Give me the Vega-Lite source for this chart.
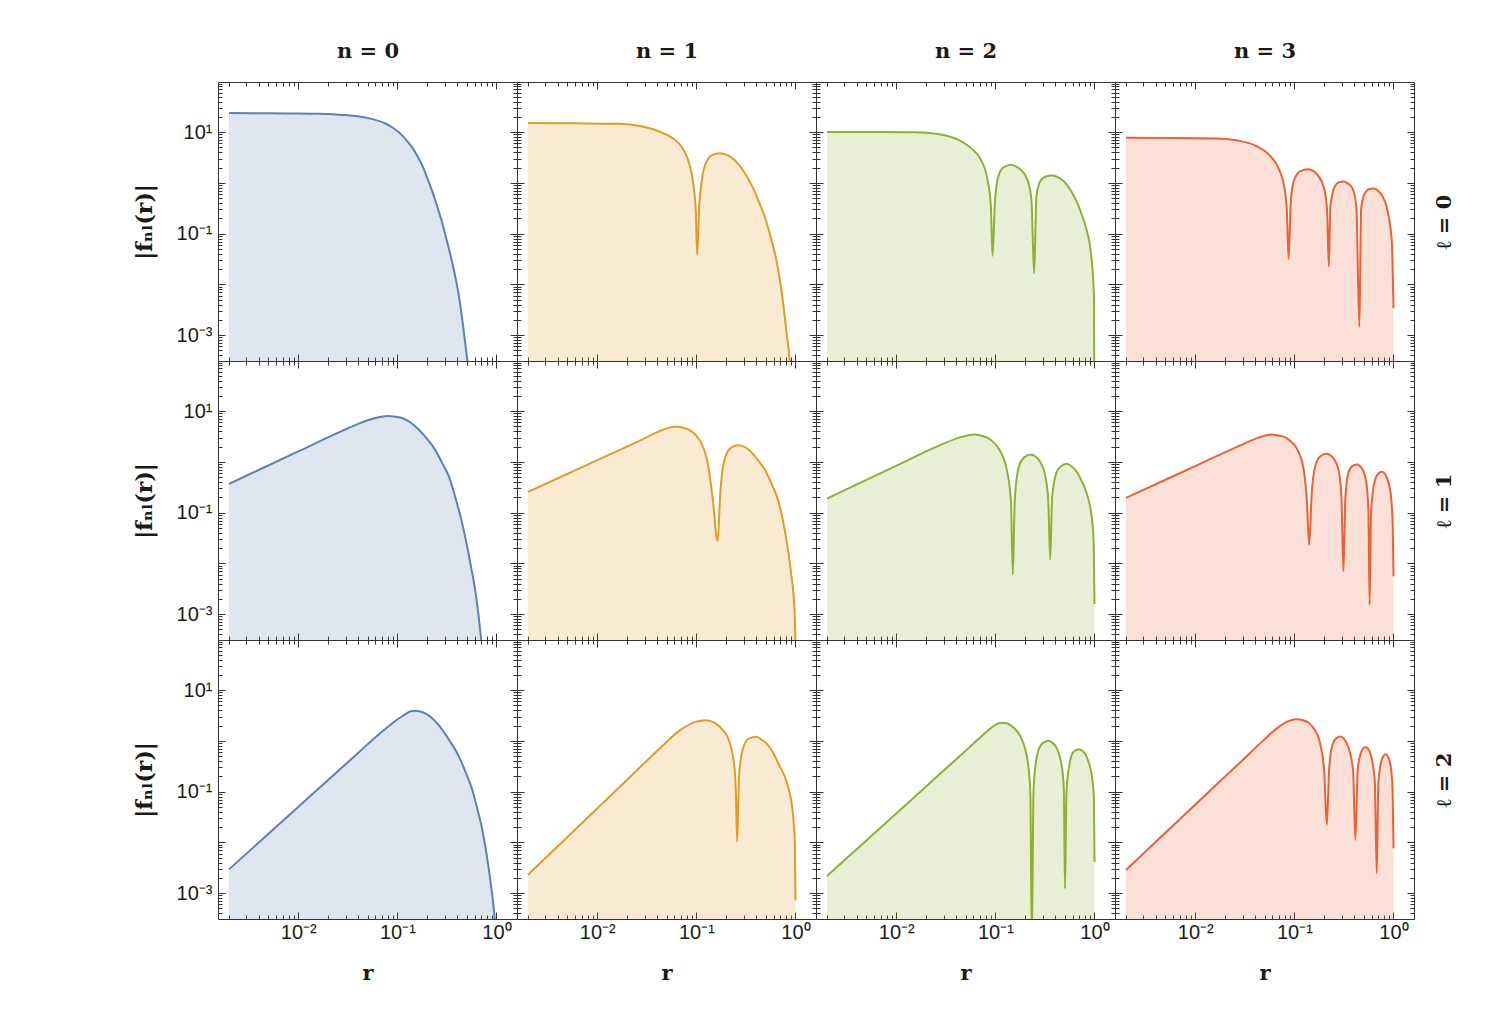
{
"$schema":"https://vega.github.io/schema/vega-lite/v6.json",
"padding":{"left":133,"top":40,"right":20,"bottom":10},
"background":"white",
"datasets":{"wf":[
{"n":0,"l":0,"r":0.002,"f":23.71},{"n":0,"l":0,"r":0.00753,"f":23.28},{"n":0,"l":0,"r":0.01585,"f":22.91},{"n":0,"l":0,"r":0.02404,"f":22.23},{"n":0,"l":0,"r":0.03162,"f":21.38},{"n":0,"l":0,"r":0.04121,"f":20.32},{"n":0,"l":0,"r":0.0561,"f":18.03},{"n":0,"l":0,"r":0.07656,"f":14.59},{"n":0,"l":0,"r":0.08913,"f":12.3},{"n":0,"l":0,"r":0.1042,"f":9.817},{"n":0,"l":0,"r":0.1216,"f":7.161},{"n":0,"l":0,"r":0.1419,"f":4.898},{"n":0,"l":0,"r":0.1585,"f":3.428},{"n":0,"l":0,"r":0.1791,"f":2.163},{"n":0,"l":0,"r":0.2,"f":1.259},{"n":0,"l":0,"r":0.2254,"f":0.673},{"n":0,"l":0,"r":0.2535,"f":0.331},{"n":0,"l":0,"r":0.2844,"f":0.1603},{"n":0,"l":0,"r":0.3194,"f":0.0661},{"n":0,"l":0,"r":0.3589,"f":0.02606},{"n":0,"l":0,"r":0.4188,"f":0.005715},{"n":0,"l":0,"r":0.5082,"f":0.0003236},{"n":0,"l":0,"r":0.5248,"f":0.0001995},
{"n":1,"l":0,"r":0.002,"f":15.03},{"n":1,"l":0,"r":0.00631,"f":14.86},{"n":1,"l":0,"r":0.01545,"f":14.59},{"n":1,"l":0,"r":0.02864,"f":12.88},{"n":1,"l":0,"r":0.04217,"f":10.28},{"n":1,"l":0,"r":0.05741,"f":7.621},{"n":1,"l":0,"r":0.07244,"f":4.831},{"n":1,"l":0,"r":0.08453,"f":2.443},{"n":1,"l":0,"r":0.0929,"f":0.9863},{"n":1,"l":0,"r":0.09886,"f":0.2523},{"n":1,"l":0,"r":0.1019,"f":0.03802},{"n":1,"l":0,"r":0.1067,"f":0.3404},{"n":1,"l":0,"r":0.1135,"f":1.146},{"n":1,"l":0,"r":0.1247,"f":2.443},{"n":1,"l":0,"r":0.1452,"f":3.565},{"n":1,"l":0,"r":0.1726,"f":3.846},{"n":1,"l":0,"r":0.2138,"f":3.412},{"n":1,"l":0,"r":0.2698,"f":2.265},{"n":1,"l":0,"r":0.315,"f":1.445},{"n":1,"l":0,"r":0.3673,"f":0.8453},{"n":1,"l":0,"r":0.429,"f":0.417},{"n":1,"l":0,"r":0.5012,"f":0.1862},{"n":1,"l":0,"r":0.5623,"f":0.0851},{"n":1,"l":0,"r":0.631,"f":0.03516},{"n":1,"l":0,"r":0.7362,"f":0.005715},{"n":1,"l":0,"r":0.8072,"f":0.001259},{"n":1,"l":0,"r":0.875,"f":0.0003236},{"n":1,"l":0,"r":0.9016,"f":0.0001585},
{"n":2,"l":0,"r":0.002,"f":10.0},{"n":2,"l":0,"r":0.00631,"f":10.0},{"n":2,"l":0,"r":0.01521,"f":9.954},{"n":2,"l":0,"r":0.02825,"f":8.974},{"n":2,"l":0,"r":0.0415,"f":7.161},{"n":2,"l":0,"r":0.05662,"f":4.831},{"n":2,"l":0,"r":0.07145,"f":2.844},{"n":2,"l":0,"r":0.08337,"f":1.146},{"n":2,"l":0,"r":0.09016,"f":0.3412},{"n":2,"l":0,"r":0.09354,"f":0.03631},{"n":2,"l":0,"r":0.09886,"f":0.3981},{"n":2,"l":0,"r":0.105,"f":1.146},{"n":2,"l":0,"r":0.118,"f":1.945},{"n":2,"l":0,"r":0.1303,"f":2.163},{"n":2,"l":0,"r":0.1455,"f":2.265},{"n":2,"l":0,"r":0.1622,"f":2.089},{"n":2,"l":0,"r":0.1807,"f":1.803},{"n":2,"l":0,"r":0.2109,"f":1.146},{"n":2,"l":0,"r":0.2312,"f":0.4624},{"n":2,"l":0,"r":0.246,"f":0.01652},{"n":2,"l":0,"r":0.2594,"f":0.537},{"n":2,"l":0,"r":0.2825,"f":1.062},{"n":2,"l":0,"r":0.3228,"f":1.334},{"n":2,"l":0,"r":0.3758,"f":1.393},{"n":2,"l":0,"r":0.4315,"f":1.288},{"n":2,"l":0,"r":0.4932,"f":1.062},{"n":2,"l":0,"r":0.58,"f":0.6918},{"n":2,"l":0,"r":0.6714,"f":0.3981},{"n":2,"l":0,"r":0.7396,"f":0.2455},{"n":2,"l":0,"r":0.8147,"f":0.1374},{"n":2,"l":0,"r":0.929,"f":0.03516},{"n":2,"l":0,"r":0.9886,"f":0.005715},{"n":2,"l":0,"r":1.0,"f":0.00001},
{"n":3,"l":0,"r":0.002,"f":7.727},{"n":3,"l":0,"r":0.00631,"f":7.691},{"n":3,"l":0,"r":0.01622,"f":7.499},{"n":3,"l":0,"r":0.0278,"f":6.745},{"n":3,"l":0,"r":0.04093,"f":5.37},{"n":3,"l":0,"r":0.05572,"f":3.565},{"n":3,"l":0,"r":0.07031,"f":1.803},{"n":3,"l":0,"r":0.07889,"f":0.8453},{"n":3,"l":0,"r":0.08395,"f":0.2931},{"n":3,"l":0,"r":0.0873,"f":0.0317},{"n":3,"l":0,"r":0.09226,"f":0.4624},{"n":3,"l":0,"r":0.09954,"f":1.146},{"n":3,"l":0,"r":0.1161,"f":1.726},{"n":3,"l":0,"r":0.1387,"f":1.862},{"n":3,"l":0,"r":0.1549,"f":1.718},{"n":3,"l":0,"r":0.171,"f":1.439},{"n":3,"l":0,"r":0.1995,"f":0.7852},{"n":3,"l":0,"r":0.2138,"f":0.2931},{"n":3,"l":0,"r":0.2223,"f":0.02234},{"n":3,"l":0,"r":0.2307,"f":0.3412},{"n":3,"l":0,"r":0.2518,"f":0.7852},{"n":3,"l":0,"r":0.2825,"f":1.033},{"n":3,"l":0,"r":0.317,"f":1.062},{"n":3,"l":0,"r":0.3508,"f":0.955},{"n":3,"l":0,"r":0.3846,"f":0.7852},{"n":3,"l":0,"r":0.4217,"f":0.3412},{"n":3,"l":0,"r":0.4529,"f":0.001466},{"n":3,"l":0,"r":0.471,"f":0.2931},{"n":3,"l":0,"r":0.5047,"f":0.5794},{"n":3,"l":0,"r":0.5662,"f":0.7516},{"n":3,"l":0,"r":0.6368,"f":0.7727},{"n":3,"l":0,"r":0.6918,"f":0.7079},{"n":3,"l":0,"r":0.7603,"f":0.5794},{"n":3,"l":0,"r":0.867,"f":0.2931},{"n":3,"l":0,"r":0.9594,"f":0.07516},{"n":3,"l":0,"r":1.0,"f":0.003388},
{"n":0,"l":1,"r":0.002,"f":0.3681},{"n":0,"l":1,"r":0.004178,"f":0.7228},{"n":0,"l":1,"r":0.01023,"f":1.641},{"n":0,"l":1,"r":0.02735,"f":4.036},{"n":0,"l":1,"r":0.04276,"f":5.875},{"n":0,"l":1,"r":0.06124,"f":7.379},{"n":0,"l":1,"r":0.07998,"f":7.962},{"n":0,"l":1,"r":0.0955,"f":7.762},{"n":0,"l":1,"r":0.1146,"f":7.161},{"n":0,"l":1,"r":0.138,"f":5.821},{"n":0,"l":1,"r":0.1637,"f":4.335},{"n":0,"l":1,"r":0.1959,"f":2.951},{"n":0,"l":1,"r":0.2339,"f":1.888},{"n":0,"l":1,"r":0.28,"f":0.989},{"n":0,"l":1,"r":0.335,"f":0.4831},{"n":0,"l":1,"r":0.383,"f":0.2042},{"n":0,"l":1,"r":0.4375,"f":0.07852},{"n":0,"l":1,"r":0.5483,"f":0.009419},{"n":0,"l":1,"r":0.6266,"f":0.002075},{"n":0,"l":1,"r":0.6982,"f":0.0003388},{"n":0,"l":1,"r":0.7244,"f":0.0001585},
{"n":1,"l":1,"r":0.002,"f":0.2559},{"n":1,"l":1,"r":0.004375,"f":0.5152},{"n":1,"l":1,"r":0.01069,"f":1.148},{"n":1,"l":1,"r":0.02618,"f":2.559},{"n":1,"l":1,"r":0.04093,"f":3.908},{"n":1,"l":1,"r":0.05012,"f":4.571},{"n":1,"l":1,"r":0.06124,"f":4.898},{"n":1,"l":1,"r":0.07244,"f":4.732},{"n":1,"l":1,"r":0.08375,"f":4.335},{"n":1,"l":1,"r":0.09705,"f":3.467},{"n":1,"l":1,"r":0.1094,"f":2.559},{"n":1,"l":1,"r":0.1309,"f":0.8851},{"n":1,"l":1,"r":0.1459,"f":0.195},{"n":1,"l":1,"r":0.1637,"f":0.02805},{"n":1,"l":1,"r":0.1746,"f":0.2642},{"n":1,"l":1,"r":0.1875,"f":0.8851},{"n":1,"l":1,"r":0.2138,"f":1.75},{"n":1,"l":1,"r":0.2399,"f":2.042},{"n":1,"l":1,"r":0.263,"f":2.133},{"n":1,"l":1,"r":0.302,"f":1.995},{"n":1,"l":1,"r":0.3508,"f":1.626},{"n":1,"l":1,"r":0.42,"f":1.072},{"n":1,"l":1,"r":0.5012,"f":0.6561},{"n":1,"l":1,"r":0.5734,"f":0.3715},{"n":1,"l":1,"r":0.6561,"f":0.195},{"n":1,"l":1,"r":0.7834,"f":0.04295},{"n":1,"l":1,"r":0.8974,"f":0.006982},{"n":1,"l":1,"r":0.9795,"f":0.001135},{"n":1,"l":1,"r":1.0,"f":0.0002512},
{"n":2,"l":1,"r":0.002,"f":0.1888},{"n":2,"l":1,"r":0.004375,"f":0.39},{"n":2,"l":1,"r":0.01072,"f":0.8933},{"n":2,"l":1,"r":0.02624,"f":2.042},{"n":2,"l":1,"r":0.04487,"f":3.069},{"n":2,"l":1,"r":0.05248,"f":3.311},{"n":2,"l":1,"r":0.06138,"f":3.459},{"n":2,"l":1,"r":0.07244,"f":3.273},{"n":2,"l":1,"r":0.08375,"f":2.972},{"n":2,"l":1,"r":0.097,"f":2.371},{"n":2,"l":1,"r":0.1096,"f":1.75},{"n":2,"l":1,"r":0.1312,"f":0.6561},{"n":2,"l":1,"r":0.1436,"f":0.1679},{"n":2,"l":1,"r":0.15,"f":0.005984},{"n":2,"l":1,"r":0.1567,"f":0.1679},{"n":2,"l":1,"r":0.1714,"f":0.7621},{"n":2,"l":1,"r":0.1963,"f":1.239},{"n":2,"l":1,"r":0.2286,"f":1.393},{"n":2,"l":1,"r":0.255,"f":1.259},{"n":2,"l":1,"r":0.2805,"f":1.033},{"n":2,"l":1,"r":0.3214,"f":0.4831},{"n":2,"l":1,"r":0.342,"f":0.1679},{"n":2,"l":1,"r":0.3573,"f":0.01183},{"n":2,"l":1,"r":0.3733,"f":0.195},{"n":2,"l":1,"r":0.4121,"f":0.6067},{"n":2,"l":1,"r":0.4592,"f":0.8222},{"n":2,"l":1,"r":0.5248,"f":0.9141},{"n":2,"l":1,"r":0.59,"f":0.8128},{"n":2,"l":1,"r":0.6561,"f":0.6561},{"n":2,"l":1,"r":0.735,"f":0.4365},{"n":2,"l":1,"r":0.8204,"f":0.2642},{"n":2,"l":1,"r":0.9397,"f":0.07852},{"n":2,"l":1,"r":0.9817,"f":0.02512},{"n":2,"l":1,"r":1.0,"f":0.001585},
{"n":3,"l":1,"r":0.002,"f":0.195},{"n":3,"l":1,"r":0.004581,"f":0.41},{"n":3,"l":1,"r":0.01119,"f":0.9141},{"n":3,"l":1,"r":0.02742,"f":2.042},{"n":3,"l":1,"r":0.04285,"f":2.972},{"n":3,"l":1,"r":0.05012,"f":3.273},{"n":3,"l":1,"r":0.05861,"f":3.459},{"n":3,"l":1,"r":0.06839,"f":3.311},{"n":3,"l":1,"r":0.08017,"f":3.069},{"n":3,"l":1,"r":0.092,"f":2.512},{"n":3,"l":1,"r":0.105,"f":1.888},{"n":3,"l":1,"r":0.1233,"f":0.7621},{"n":3,"l":1,"r":0.1337,"f":0.1679},{"n":3,"l":1,"r":0.1409,"f":0.02339},{"n":3,"l":1,"r":0.15,"f":0.2642},{"n":3,"l":1,"r":0.1641,"f":0.8851},{"n":3,"l":1,"r":0.1828,"f":1.294},{"n":3,"l":1,"r":0.2089,"f":1.439},{"n":3,"l":1,"r":0.2455,"f":1.199},{"n":3,"l":1,"r":0.2805,"f":0.6561},{"n":3,"l":1,"r":0.2985,"f":0.195},{"n":3,"l":1,"r":0.3126,"f":0.006982},{"n":3,"l":1,"r":0.3266,"f":0.195},{"n":3,"l":1,"r":0.3508,"f":0.6067},{"n":3,"l":1,"r":0.3837,"f":0.8222},{"n":3,"l":1,"r":0.4266,"f":0.8851},{"n":3,"l":1,"r":0.4887,"f":0.7047},{"n":3,"l":1,"r":0.5346,"f":0.3565},{"n":3,"l":1,"r":0.5585,"f":0.1067},{"n":3,"l":1,"r":0.5741,"f":0.001531},{"n":3,"l":1,"r":0.5943,"f":0.1067},{"n":3,"l":1,"r":0.6397,"f":0.3855},{"n":3,"l":1,"r":0.6982,"f":0.5794},{"n":3,"l":1,"r":0.7638,"f":0.6353},{"n":3,"l":1,"r":0.859,"f":0.4831},{"n":3,"l":1,"r":0.9397,"f":0.2265},{"n":3,"l":1,"r":0.9817,"f":0.05794},{"n":3,"l":1,"r":1.0,"f":0.005559},
{"n":0,"l":2,"r":0.002,"f":0.002944},{"n":0,"l":2,"r":0.004055,"f":0.01023},{"n":0,"l":2,"r":0.00879,"f":0.03981},{"n":0,"l":2,"r":0.01905,"f":0.1556},{"n":0,"l":2,"r":0.04121,"f":0.6053},{"n":0,"l":2,"r":0.06561,"f":1.371},{"n":0,"l":2,"r":0.07943,"f":1.849},{"n":0,"l":2,"r":0.09661,"f":2.512},{"n":0,"l":2,"r":0.1148,"f":3.162},{"n":0,"l":2,"r":0.1368,"f":3.828},{"n":0,"l":2,"r":0.1514,"f":3.936},{"n":0,"l":2,"r":0.1698,"f":3.802},{"n":0,"l":2,"r":0.1936,"f":3.428},{"n":0,"l":2,"r":0.2344,"f":2.57},{"n":0,"l":2,"r":0.2844,"f":1.648},{"n":0,"l":2,"r":0.3451,"f":0.933},{"n":0,"l":2,"r":0.4188,"f":0.4898},{"n":0,"l":2,"r":0.489,"f":0.2399},{"n":0,"l":2,"r":0.5702,"f":0.1081},{"n":0,"l":2,"r":0.6405,"f":0.0457},{"n":0,"l":2,"r":0.7194,"f":0.01758},{"n":0,"l":2,"r":0.8395,"f":0.002858},{"n":0,"l":2,"r":0.9594,"f":0.0003184},{"n":0,"l":2,"r":0.9886,"f":0.0001585},
{"n":1,"l":2,"r":0.002,"f":0.002307},{"n":1,"l":2,"r":0.004276,"f":0.00955},{"n":1,"l":2,"r":0.009572,"f":0.04315},{"n":1,"l":2,"r":0.02138,"f":0.1941},{"n":1,"l":2,"r":0.04375,"f":0.7413},{"n":1,"l":2,"r":0.06855,"f":1.626},{"n":1,"l":2,"r":0.09795,"f":2.371},{"n":1,"l":2,"r":0.1227,"f":2.559},{"n":1,"l":2,"r":0.1413,"f":2.427},{"n":1,"l":2,"r":0.1603,"f":2.133},{"n":1,"l":2,"r":0.185,"f":1.622},{"n":1,"l":2,"r":0.2094,"f":1.109},{"n":1,"l":2,"r":0.2399,"f":0.3565},{"n":1,"l":2,"r":0.2506,"f":0.09141},{"n":1,"l":2,"r":0.2576,"f":0.01019},{"n":1,"l":2,"r":0.2692,"f":0.195},{"n":1,"l":2,"r":0.2917,"f":0.6561},{"n":1,"l":2,"r":0.3373,"f":1.109},{"n":1,"l":2,"r":0.4027,"f":1.199},{"n":1,"l":2,"r":0.45,"f":1.072},{"n":1,"l":2,"r":0.5129,"f":0.8851},{"n":1,"l":2,"r":0.59,"f":0.6026},{"n":1,"l":2,"r":0.6714,"f":0.3565},{"n":1,"l":2,"r":0.8222,"f":0.1439},{"n":1,"l":2,"r":0.9333,"f":0.04295},{"n":1,"l":2,"r":0.9863,"f":0.009419},{"n":1,"l":2,"r":1.0,"f":0.0007244},
{"n":2,"l":2,"r":0.002,"f":0.002173},{"n":2,"l":2,"r":0.004477,"f":0.009016},{"n":2,"l":2,"r":0.01094,"f":0.04365},{"n":2,"l":2,"r":0.02679,"f":0.2118},{"n":2,"l":2,"r":0.05012,"f":0.6397},{"n":2,"l":2,"r":0.07161,"f":1.199},{"n":2,"l":2,"r":0.09376,"f":1.888},{"n":2,"l":2,"r":0.114,"f":2.265},{"n":2,"l":2,"r":0.1288,"f":2.213},{"n":2,"l":2,"r":0.1466,"f":1.95},{"n":2,"l":2,"r":0.165,"f":1.549},{"n":2,"l":2,"r":0.1832,"f":1.109},{"n":2,"l":2,"r":0.2133,"f":0.3565},{"n":2,"l":2,"r":0.2254,"f":0.09141},{"n":2,"l":2,"r":0.2333,"f":0.0001},{"n":2,"l":2,"r":0.2421,"f":0.09141},{"n":2,"l":2,"r":0.2553,"f":0.3565},{"n":2,"l":2,"r":0.2864,"f":0.8222},{"n":2,"l":2,"r":0.3162,"f":0.955},{"n":2,"l":2,"r":0.3428,"f":1.0},{"n":2,"l":2,"r":0.3715,"f":0.9333},{"n":2,"l":2,"r":0.4093,"f":0.7621},{"n":2,"l":2,"r":0.4688,"f":0.3069},{"n":2,"l":2,"r":0.4909,"f":0.1067},{"n":2,"l":2,"r":0.5035,"f":0.001222},{"n":2,"l":2,"r":0.5224,"f":0.1067},{"n":2,"l":2,"r":0.561,"f":0.3565},{"n":2,"l":2,"r":0.6138,"f":0.6067},{"n":2,"l":2,"r":0.6887,"f":0.6855},{"n":2,"l":2,"r":0.8017,"f":0.5623},{"n":2,"l":2,"r":0.86,"f":0.4074},{"n":2,"l":2,"r":0.9183,"f":0.2642},{"n":2,"l":2,"r":0.9863,"f":0.07852},{"n":2,"l":2,"r":1.0,"f":0.004102},
{"n":3,"l":2,"r":0.002,"f":0.002858},{"n":3,"l":2,"r":0.003451,"f":0.00782},{"n":3,"l":2,"r":0.007464,"f":0.03243},{"n":3,"l":2,"r":0.01618,"f":0.1349},{"n":3,"l":2,"r":0.02999,"f":0.4169},{"n":3,"l":2,"r":0.04775,"f":0.9886},{"n":3,"l":2,"r":0.07031,"f":1.914},{"n":3,"l":2,"r":0.0871,"f":2.455},{"n":3,"l":2,"r":0.1035,"f":2.679},{"n":3,"l":2,"r":0.1202,"f":2.57},{"n":3,"l":2,"r":0.1409,"f":2.234},{"n":3,"l":2,"r":0.16,"f":1.66},{"n":3,"l":2,"r":0.1778,"f":1.047},{"n":3,"l":2,"r":0.1995,"f":0.2679},{"n":3,"l":2,"r":0.2123,"f":0.02203},{"n":3,"l":2,"r":0.2239,"f":0.2679},{"n":3,"l":2,"r":0.2421,"f":0.8337},{"n":3,"l":2,"r":0.2655,"f":1.13},{"n":3,"l":2,"r":0.2938,"f":1.216},{"n":3,"l":2,"r":0.3162,"f":1.096},{"n":3,"l":2,"r":0.3428,"f":0.8337},{"n":3,"l":2,"r":0.3908,"f":0.2679},{"n":3,"l":2,"r":0.4121,"f":0.01114},{"n":3,"l":2,"r":0.4355,"f":0.2679},{"n":3,"l":2,"r":0.4677,"f":0.5715},{"n":3,"l":2,"r":0.5164,"f":0.7516},{"n":3,"l":2,"r":0.5559,"f":0.6918},{"n":3,"l":2,"r":0.5888,"f":0.5297},{"n":3,"l":2,"r":0.6471,"f":0.1702},{"n":3,"l":2,"r":0.6776,"f":0.002455},{"n":3,"l":2,"r":0.7031,"f":0.1466},{"n":3,"l":2,"r":0.7603,"f":0.4217},{"n":3,"l":2,"r":0.8337,"f":0.547},{"n":3,"l":2,"r":0.9162,"f":0.3908},{"n":3,"l":2,"r":0.9727,"f":0.1466},{"n":3,"l":2,"r":1.0,"f":0.007656}
]},
"columns":4,
"spacing":0,
"bounds":"flush",
"concat":[
{"width":299,"height":279,"data":{"name":"wf"},"transform":[{"filter":"datum.n == 0 && datum.l == 0"}],"layer":[
{"mark":{"type":"area","opacity":0.2,"clip":true,"interpolate":"monotone"},"encoding":{"x":{"field":"r","type":"quantitative","scale":{"type":"log","domain":[0.00155,1.61],"nice":false},"axis":{"orient":"bottom","values":[0.002,0.003,0.004,0.005,0.006,0.007,0.008,0.009,0.01,0.02,0.03,0.04,0.05,0.06,0.07,0.08,0.09,0.1,0.2,0.3,0.4,0.5,0.6,0.7,0.8,0.9,1],"tickSize":{"condition":{"test":"abs(log(datum.value)/LN10-round(log(datum.value)/LN10))<0.001","value":-7},"value":-4},"labels":false,"title":null}},"y":{"field":"f","type":"quantitative","stack":null,"scale":{"type":"log","domain":[0.00031,97],"nice":false},"axis":{"orient":"left","values":[0.0004,0.0005,0.0006,0.0007,0.0008,0.0009,0.001,0.002,0.003,0.004,0.005,0.006,0.007,0.008,0.009,0.01,0.02,0.03,0.04,0.05,0.06,0.07,0.08,0.09,0.1,0.2,0.3,0.4,0.5,0.6,0.7,0.8,0.9,1,2,3,4,5,6,7,8,9,10,20,30,40,50,60,70,80,90],"tickSize":{"condition":{"test":"abs(log(datum.value)/LN10-round(log(datum.value)/LN10))<0.001","value":-7},"value":-4},"labelExpr":"datum.value==10?'10¹':datum.value==0.1?'10⁻¹':datum.value==0.001?'10⁻³':''","title":"|fₙₗ(r)|","titleFontSize":22}},"color":{"field":"n","type":"nominal","scale":{"domain":[0,1,2,3],"range":["#5E81B5","#E19C24","#8FB032","#EB6235"]},"legend":null}}},
{"mark":{"type":"line","strokeWidth":2,"clip":true,"interpolate":"monotone"},"encoding":{"x":{"field":"r","type":"quantitative","scale":{"type":"log","domain":[0.00155,1.61],"nice":false},"axis":{"orient":"top","values":[0.002,0.003,0.004,0.005,0.006,0.007,0.008,0.009,0.01,0.02,0.03,0.04,0.05,0.06,0.07,0.08,0.09,0.1,0.2,0.3,0.4,0.5,0.6,0.7,0.8,0.9,1],"tickSize":{"condition":{"test":"abs(log(datum.value)/LN10-round(log(datum.value)/LN10))<0.001","value":-7},"value":-4},"labels":false,"title":"n = 0"}},"y":{"field":"f","type":"quantitative","scale":{"type":"log","domain":[0.00031,97],"nice":false},"axis":{"orient":"right","values":[0.0004,0.0005,0.0006,0.0007,0.0008,0.0009,0.001,0.002,0.003,0.004,0.005,0.006,0.007,0.008,0.009,0.01,0.02,0.03,0.04,0.05,0.06,0.07,0.08,0.09,0.1,0.2,0.3,0.4,0.5,0.6,0.7,0.8,0.9,1,2,3,4,5,6,7,8,9,10,20,30,40,50,60,70,80,90],"tickSize":{"condition":{"test":"abs(log(datum.value)/LN10-round(log(datum.value)/LN10))<0.001","value":-7},"value":-4},"labels":false,"title":null}},"color":{"field":"n","type":"nominal","scale":{"domain":[0,1,2,3],"range":["#5E81B5","#E19C24","#8FB032","#EB6235"]},"legend":null}}}
],"resolve":{"axis":{"x":"independent","y":"independent"}}},
{"width":299,"height":279,"data":{"name":"wf"},"transform":[{"filter":"datum.n == 1 && datum.l == 0"}],"layer":[
{"mark":{"type":"area","opacity":0.2,"clip":true,"interpolate":"monotone"},"encoding":{"x":{"field":"r","type":"quantitative","scale":{"type":"log","domain":[0.00155,1.61],"nice":false},"axis":{"orient":"bottom","values":[0.002,0.003,0.004,0.005,0.006,0.007,0.008,0.009,0.01,0.02,0.03,0.04,0.05,0.06,0.07,0.08,0.09,0.1,0.2,0.3,0.4,0.5,0.6,0.7,0.8,0.9,1],"tickSize":{"condition":{"test":"abs(log(datum.value)/LN10-round(log(datum.value)/LN10))<0.001","value":-7},"value":-4},"labels":false,"title":null}},"y":{"field":"f","type":"quantitative","stack":null,"scale":{"type":"log","domain":[0.00031,97],"nice":false},"axis":{"orient":"left","values":[0.0004,0.0005,0.0006,0.0007,0.0008,0.0009,0.001,0.002,0.003,0.004,0.005,0.006,0.007,0.008,0.009,0.01,0.02,0.03,0.04,0.05,0.06,0.07,0.08,0.09,0.1,0.2,0.3,0.4,0.5,0.6,0.7,0.8,0.9,1,2,3,4,5,6,7,8,9,10,20,30,40,50,60,70,80,90],"tickSize":{"condition":{"test":"abs(log(datum.value)/LN10-round(log(datum.value)/LN10))<0.001","value":-7},"value":-4},"labels":false,"title":null}},"color":{"field":"n","type":"nominal","scale":{"domain":[0,1,2,3],"range":["#5E81B5","#E19C24","#8FB032","#EB6235"]},"legend":null}}},
{"mark":{"type":"line","strokeWidth":2,"clip":true,"interpolate":"monotone"},"encoding":{"x":{"field":"r","type":"quantitative","scale":{"type":"log","domain":[0.00155,1.61],"nice":false},"axis":{"orient":"top","values":[0.002,0.003,0.004,0.005,0.006,0.007,0.008,0.009,0.01,0.02,0.03,0.04,0.05,0.06,0.07,0.08,0.09,0.1,0.2,0.3,0.4,0.5,0.6,0.7,0.8,0.9,1],"tickSize":{"condition":{"test":"abs(log(datum.value)/LN10-round(log(datum.value)/LN10))<0.001","value":-7},"value":-4},"labels":false,"title":"n = 1"}},"y":{"field":"f","type":"quantitative","scale":{"type":"log","domain":[0.00031,97],"nice":false},"axis":{"orient":"right","values":[0.0004,0.0005,0.0006,0.0007,0.0008,0.0009,0.001,0.002,0.003,0.004,0.005,0.006,0.007,0.008,0.009,0.01,0.02,0.03,0.04,0.05,0.06,0.07,0.08,0.09,0.1,0.2,0.3,0.4,0.5,0.6,0.7,0.8,0.9,1,2,3,4,5,6,7,8,9,10,20,30,40,50,60,70,80,90],"tickSize":{"condition":{"test":"abs(log(datum.value)/LN10-round(log(datum.value)/LN10))<0.001","value":-7},"value":-4},"labels":false,"title":null}},"color":{"field":"n","type":"nominal","scale":{"domain":[0,1,2,3],"range":["#5E81B5","#E19C24","#8FB032","#EB6235"]},"legend":null}}}
],"resolve":{"axis":{"x":"independent","y":"independent"}}},
{"width":299,"height":279,"data":{"name":"wf"},"transform":[{"filter":"datum.n == 2 && datum.l == 0"}],"layer":[
{"mark":{"type":"area","opacity":0.2,"clip":true,"interpolate":"monotone"},"encoding":{"x":{"field":"r","type":"quantitative","scale":{"type":"log","domain":[0.00155,1.61],"nice":false},"axis":{"orient":"bottom","values":[0.002,0.003,0.004,0.005,0.006,0.007,0.008,0.009,0.01,0.02,0.03,0.04,0.05,0.06,0.07,0.08,0.09,0.1,0.2,0.3,0.4,0.5,0.6,0.7,0.8,0.9,1],"tickSize":{"condition":{"test":"abs(log(datum.value)/LN10-round(log(datum.value)/LN10))<0.001","value":-7},"value":-4},"labels":false,"title":null}},"y":{"field":"f","type":"quantitative","stack":null,"scale":{"type":"log","domain":[0.00031,97],"nice":false},"axis":{"orient":"left","values":[0.0004,0.0005,0.0006,0.0007,0.0008,0.0009,0.001,0.002,0.003,0.004,0.005,0.006,0.007,0.008,0.009,0.01,0.02,0.03,0.04,0.05,0.06,0.07,0.08,0.09,0.1,0.2,0.3,0.4,0.5,0.6,0.7,0.8,0.9,1,2,3,4,5,6,7,8,9,10,20,30,40,50,60,70,80,90],"tickSize":{"condition":{"test":"abs(log(datum.value)/LN10-round(log(datum.value)/LN10))<0.001","value":-7},"value":-4},"labels":false,"title":null}},"color":{"field":"n","type":"nominal","scale":{"domain":[0,1,2,3],"range":["#5E81B5","#E19C24","#8FB032","#EB6235"]},"legend":null}}},
{"mark":{"type":"line","strokeWidth":2,"clip":true,"interpolate":"monotone"},"encoding":{"x":{"field":"r","type":"quantitative","scale":{"type":"log","domain":[0.00155,1.61],"nice":false},"axis":{"orient":"top","values":[0.002,0.003,0.004,0.005,0.006,0.007,0.008,0.009,0.01,0.02,0.03,0.04,0.05,0.06,0.07,0.08,0.09,0.1,0.2,0.3,0.4,0.5,0.6,0.7,0.8,0.9,1],"tickSize":{"condition":{"test":"abs(log(datum.value)/LN10-round(log(datum.value)/LN10))<0.001","value":-7},"value":-4},"labels":false,"title":"n = 2"}},"y":{"field":"f","type":"quantitative","scale":{"type":"log","domain":[0.00031,97],"nice":false},"axis":{"orient":"right","values":[0.0004,0.0005,0.0006,0.0007,0.0008,0.0009,0.001,0.002,0.003,0.004,0.005,0.006,0.007,0.008,0.009,0.01,0.02,0.03,0.04,0.05,0.06,0.07,0.08,0.09,0.1,0.2,0.3,0.4,0.5,0.6,0.7,0.8,0.9,1,2,3,4,5,6,7,8,9,10,20,30,40,50,60,70,80,90],"tickSize":{"condition":{"test":"abs(log(datum.value)/LN10-round(log(datum.value)/LN10))<0.001","value":-7},"value":-4},"labels":false,"title":null}},"color":{"field":"n","type":"nominal","scale":{"domain":[0,1,2,3],"range":["#5E81B5","#E19C24","#8FB032","#EB6235"]},"legend":null}}}
],"resolve":{"axis":{"x":"independent","y":"independent"}}},
{"width":299,"height":279,"data":{"name":"wf"},"transform":[{"filter":"datum.n == 3 && datum.l == 0"}],"layer":[
{"mark":{"type":"area","opacity":0.2,"clip":true,"interpolate":"monotone"},"encoding":{"x":{"field":"r","type":"quantitative","scale":{"type":"log","domain":[0.00155,1.61],"nice":false},"axis":{"orient":"bottom","values":[0.002,0.003,0.004,0.005,0.006,0.007,0.008,0.009,0.01,0.02,0.03,0.04,0.05,0.06,0.07,0.08,0.09,0.1,0.2,0.3,0.4,0.5,0.6,0.7,0.8,0.9,1],"tickSize":{"condition":{"test":"abs(log(datum.value)/LN10-round(log(datum.value)/LN10))<0.001","value":-7},"value":-4},"labels":false,"title":null}},"y":{"field":"f","type":"quantitative","stack":null,"scale":{"type":"log","domain":[0.00031,97],"nice":false},"axis":{"orient":"left","values":[0.0004,0.0005,0.0006,0.0007,0.0008,0.0009,0.001,0.002,0.003,0.004,0.005,0.006,0.007,0.008,0.009,0.01,0.02,0.03,0.04,0.05,0.06,0.07,0.08,0.09,0.1,0.2,0.3,0.4,0.5,0.6,0.7,0.8,0.9,1,2,3,4,5,6,7,8,9,10,20,30,40,50,60,70,80,90],"tickSize":{"condition":{"test":"abs(log(datum.value)/LN10-round(log(datum.value)/LN10))<0.001","value":-7},"value":-4},"labels":false,"title":null}},"color":{"field":"n","type":"nominal","scale":{"domain":[0,1,2,3],"range":["#5E81B5","#E19C24","#8FB032","#EB6235"]},"legend":null}}},
{"mark":{"type":"line","strokeWidth":2,"clip":true,"interpolate":"monotone"},"encoding":{"x":{"field":"r","type":"quantitative","scale":{"type":"log","domain":[0.00155,1.61],"nice":false},"axis":{"orient":"top","values":[0.002,0.003,0.004,0.005,0.006,0.007,0.008,0.009,0.01,0.02,0.03,0.04,0.05,0.06,0.07,0.08,0.09,0.1,0.2,0.3,0.4,0.5,0.6,0.7,0.8,0.9,1],"tickSize":{"condition":{"test":"abs(log(datum.value)/LN10-round(log(datum.value)/LN10))<0.001","value":-7},"value":-4},"labels":false,"title":"n = 3"}},"y":{"field":"f","type":"quantitative","scale":{"type":"log","domain":[0.00031,97],"nice":false},"axis":{"orient":"right","values":[0.0004,0.0005,0.0006,0.0007,0.0008,0.0009,0.001,0.002,0.003,0.004,0.005,0.006,0.007,0.008,0.009,0.01,0.02,0.03,0.04,0.05,0.06,0.07,0.08,0.09,0.1,0.2,0.3,0.4,0.5,0.6,0.7,0.8,0.9,1,2,3,4,5,6,7,8,9,10,20,30,40,50,60,70,80,90],"tickSize":{"condition":{"test":"abs(log(datum.value)/LN10-round(log(datum.value)/LN10))<0.001","value":-7},"value":-4},"labels":false,"title":"ℓ = 0","titleAngle":270,"titleBaseline":"top"}},"color":{"field":"n","type":"nominal","scale":{"domain":[0,1,2,3],"range":["#5E81B5","#E19C24","#8FB032","#EB6235"]},"legend":null}}}
],"resolve":{"axis":{"x":"independent","y":"independent"}}},
{"width":299,"height":279,"data":{"name":"wf"},"transform":[{"filter":"datum.n == 0 && datum.l == 1"}],"layer":[
{"mark":{"type":"area","opacity":0.2,"clip":true,"interpolate":"monotone"},"encoding":{"x":{"field":"r","type":"quantitative","scale":{"type":"log","domain":[0.00155,1.61],"nice":false},"axis":{"orient":"bottom","values":[0.002,0.003,0.004,0.005,0.006,0.007,0.008,0.009,0.01,0.02,0.03,0.04,0.05,0.06,0.07,0.08,0.09,0.1,0.2,0.3,0.4,0.5,0.6,0.7,0.8,0.9,1],"tickSize":{"condition":{"test":"abs(log(datum.value)/LN10-round(log(datum.value)/LN10))<0.001","value":-7},"value":-4},"labels":false,"title":null}},"y":{"field":"f","type":"quantitative","stack":null,"scale":{"type":"log","domain":[0.00031,97],"nice":false},"axis":{"orient":"left","values":[0.0004,0.0005,0.0006,0.0007,0.0008,0.0009,0.001,0.002,0.003,0.004,0.005,0.006,0.007,0.008,0.009,0.01,0.02,0.03,0.04,0.05,0.06,0.07,0.08,0.09,0.1,0.2,0.3,0.4,0.5,0.6,0.7,0.8,0.9,1,2,3,4,5,6,7,8,9,10,20,30,40,50,60,70,80,90],"tickSize":{"condition":{"test":"abs(log(datum.value)/LN10-round(log(datum.value)/LN10))<0.001","value":-7},"value":-4},"labelExpr":"datum.value==10?'10¹':datum.value==0.1?'10⁻¹':datum.value==0.001?'10⁻³':''","title":"|fₙₗ(r)|","titleFontSize":22}},"color":{"field":"n","type":"nominal","scale":{"domain":[0,1,2,3],"range":["#5E81B5","#E19C24","#8FB032","#EB6235"]},"legend":null}}},
{"mark":{"type":"line","strokeWidth":2,"clip":true,"interpolate":"monotone"},"encoding":{"x":{"field":"r","type":"quantitative","scale":{"type":"log","domain":[0.00155,1.61],"nice":false},"axis":{"orient":"top","values":[0.002,0.003,0.004,0.005,0.006,0.007,0.008,0.009,0.01,0.02,0.03,0.04,0.05,0.06,0.07,0.08,0.09,0.1,0.2,0.3,0.4,0.5,0.6,0.7,0.8,0.9,1],"tickSize":{"condition":{"test":"abs(log(datum.value)/LN10-round(log(datum.value)/LN10))<0.001","value":-7},"value":-4},"labels":false,"title":null}},"y":{"field":"f","type":"quantitative","scale":{"type":"log","domain":[0.00031,97],"nice":false},"axis":{"orient":"right","values":[0.0004,0.0005,0.0006,0.0007,0.0008,0.0009,0.001,0.002,0.003,0.004,0.005,0.006,0.007,0.008,0.009,0.01,0.02,0.03,0.04,0.05,0.06,0.07,0.08,0.09,0.1,0.2,0.3,0.4,0.5,0.6,0.7,0.8,0.9,1,2,3,4,5,6,7,8,9,10,20,30,40,50,60,70,80,90],"tickSize":{"condition":{"test":"abs(log(datum.value)/LN10-round(log(datum.value)/LN10))<0.001","value":-7},"value":-4},"labels":false,"title":null}},"color":{"field":"n","type":"nominal","scale":{"domain":[0,1,2,3],"range":["#5E81B5","#E19C24","#8FB032","#EB6235"]},"legend":null}}}
],"resolve":{"axis":{"x":"independent","y":"independent"}}},
{"width":299,"height":279,"data":{"name":"wf"},"transform":[{"filter":"datum.n == 1 && datum.l == 1"}],"layer":[
{"mark":{"type":"area","opacity":0.2,"clip":true,"interpolate":"monotone"},"encoding":{"x":{"field":"r","type":"quantitative","scale":{"type":"log","domain":[0.00155,1.61],"nice":false},"axis":{"orient":"bottom","values":[0.002,0.003,0.004,0.005,0.006,0.007,0.008,0.009,0.01,0.02,0.03,0.04,0.05,0.06,0.07,0.08,0.09,0.1,0.2,0.3,0.4,0.5,0.6,0.7,0.8,0.9,1],"tickSize":{"condition":{"test":"abs(log(datum.value)/LN10-round(log(datum.value)/LN10))<0.001","value":-7},"value":-4},"labels":false,"title":null}},"y":{"field":"f","type":"quantitative","stack":null,"scale":{"type":"log","domain":[0.00031,97],"nice":false},"axis":{"orient":"left","values":[0.0004,0.0005,0.0006,0.0007,0.0008,0.0009,0.001,0.002,0.003,0.004,0.005,0.006,0.007,0.008,0.009,0.01,0.02,0.03,0.04,0.05,0.06,0.07,0.08,0.09,0.1,0.2,0.3,0.4,0.5,0.6,0.7,0.8,0.9,1,2,3,4,5,6,7,8,9,10,20,30,40,50,60,70,80,90],"tickSize":{"condition":{"test":"abs(log(datum.value)/LN10-round(log(datum.value)/LN10))<0.001","value":-7},"value":-4},"labels":false,"title":null}},"color":{"field":"n","type":"nominal","scale":{"domain":[0,1,2,3],"range":["#5E81B5","#E19C24","#8FB032","#EB6235"]},"legend":null}}},
{"mark":{"type":"line","strokeWidth":2,"clip":true,"interpolate":"monotone"},"encoding":{"x":{"field":"r","type":"quantitative","scale":{"type":"log","domain":[0.00155,1.61],"nice":false},"axis":{"orient":"top","values":[0.002,0.003,0.004,0.005,0.006,0.007,0.008,0.009,0.01,0.02,0.03,0.04,0.05,0.06,0.07,0.08,0.09,0.1,0.2,0.3,0.4,0.5,0.6,0.7,0.8,0.9,1],"tickSize":{"condition":{"test":"abs(log(datum.value)/LN10-round(log(datum.value)/LN10))<0.001","value":-7},"value":-4},"labels":false,"title":null}},"y":{"field":"f","type":"quantitative","scale":{"type":"log","domain":[0.00031,97],"nice":false},"axis":{"orient":"right","values":[0.0004,0.0005,0.0006,0.0007,0.0008,0.0009,0.001,0.002,0.003,0.004,0.005,0.006,0.007,0.008,0.009,0.01,0.02,0.03,0.04,0.05,0.06,0.07,0.08,0.09,0.1,0.2,0.3,0.4,0.5,0.6,0.7,0.8,0.9,1,2,3,4,5,6,7,8,9,10,20,30,40,50,60,70,80,90],"tickSize":{"condition":{"test":"abs(log(datum.value)/LN10-round(log(datum.value)/LN10))<0.001","value":-7},"value":-4},"labels":false,"title":null}},"color":{"field":"n","type":"nominal","scale":{"domain":[0,1,2,3],"range":["#5E81B5","#E19C24","#8FB032","#EB6235"]},"legend":null}}}
],"resolve":{"axis":{"x":"independent","y":"independent"}}},
{"width":299,"height":279,"data":{"name":"wf"},"transform":[{"filter":"datum.n == 2 && datum.l == 1"}],"layer":[
{"mark":{"type":"area","opacity":0.2,"clip":true,"interpolate":"monotone"},"encoding":{"x":{"field":"r","type":"quantitative","scale":{"type":"log","domain":[0.00155,1.61],"nice":false},"axis":{"orient":"bottom","values":[0.002,0.003,0.004,0.005,0.006,0.007,0.008,0.009,0.01,0.02,0.03,0.04,0.05,0.06,0.07,0.08,0.09,0.1,0.2,0.3,0.4,0.5,0.6,0.7,0.8,0.9,1],"tickSize":{"condition":{"test":"abs(log(datum.value)/LN10-round(log(datum.value)/LN10))<0.001","value":-7},"value":-4},"labels":false,"title":null}},"y":{"field":"f","type":"quantitative","stack":null,"scale":{"type":"log","domain":[0.00031,97],"nice":false},"axis":{"orient":"left","values":[0.0004,0.0005,0.0006,0.0007,0.0008,0.0009,0.001,0.002,0.003,0.004,0.005,0.006,0.007,0.008,0.009,0.01,0.02,0.03,0.04,0.05,0.06,0.07,0.08,0.09,0.1,0.2,0.3,0.4,0.5,0.6,0.7,0.8,0.9,1,2,3,4,5,6,7,8,9,10,20,30,40,50,60,70,80,90],"tickSize":{"condition":{"test":"abs(log(datum.value)/LN10-round(log(datum.value)/LN10))<0.001","value":-7},"value":-4},"labels":false,"title":null}},"color":{"field":"n","type":"nominal","scale":{"domain":[0,1,2,3],"range":["#5E81B5","#E19C24","#8FB032","#EB6235"]},"legend":null}}},
{"mark":{"type":"line","strokeWidth":2,"clip":true,"interpolate":"monotone"},"encoding":{"x":{"field":"r","type":"quantitative","scale":{"type":"log","domain":[0.00155,1.61],"nice":false},"axis":{"orient":"top","values":[0.002,0.003,0.004,0.005,0.006,0.007,0.008,0.009,0.01,0.02,0.03,0.04,0.05,0.06,0.07,0.08,0.09,0.1,0.2,0.3,0.4,0.5,0.6,0.7,0.8,0.9,1],"tickSize":{"condition":{"test":"abs(log(datum.value)/LN10-round(log(datum.value)/LN10))<0.001","value":-7},"value":-4},"labels":false,"title":null}},"y":{"field":"f","type":"quantitative","scale":{"type":"log","domain":[0.00031,97],"nice":false},"axis":{"orient":"right","values":[0.0004,0.0005,0.0006,0.0007,0.0008,0.0009,0.001,0.002,0.003,0.004,0.005,0.006,0.007,0.008,0.009,0.01,0.02,0.03,0.04,0.05,0.06,0.07,0.08,0.09,0.1,0.2,0.3,0.4,0.5,0.6,0.7,0.8,0.9,1,2,3,4,5,6,7,8,9,10,20,30,40,50,60,70,80,90],"tickSize":{"condition":{"test":"abs(log(datum.value)/LN10-round(log(datum.value)/LN10))<0.001","value":-7},"value":-4},"labels":false,"title":null}},"color":{"field":"n","type":"nominal","scale":{"domain":[0,1,2,3],"range":["#5E81B5","#E19C24","#8FB032","#EB6235"]},"legend":null}}}
],"resolve":{"axis":{"x":"independent","y":"independent"}}},
{"width":299,"height":279,"data":{"name":"wf"},"transform":[{"filter":"datum.n == 3 && datum.l == 1"}],"layer":[
{"mark":{"type":"area","opacity":0.2,"clip":true,"interpolate":"monotone"},"encoding":{"x":{"field":"r","type":"quantitative","scale":{"type":"log","domain":[0.00155,1.61],"nice":false},"axis":{"orient":"bottom","values":[0.002,0.003,0.004,0.005,0.006,0.007,0.008,0.009,0.01,0.02,0.03,0.04,0.05,0.06,0.07,0.08,0.09,0.1,0.2,0.3,0.4,0.5,0.6,0.7,0.8,0.9,1],"tickSize":{"condition":{"test":"abs(log(datum.value)/LN10-round(log(datum.value)/LN10))<0.001","value":-7},"value":-4},"labels":false,"title":null}},"y":{"field":"f","type":"quantitative","stack":null,"scale":{"type":"log","domain":[0.00031,97],"nice":false},"axis":{"orient":"left","values":[0.0004,0.0005,0.0006,0.0007,0.0008,0.0009,0.001,0.002,0.003,0.004,0.005,0.006,0.007,0.008,0.009,0.01,0.02,0.03,0.04,0.05,0.06,0.07,0.08,0.09,0.1,0.2,0.3,0.4,0.5,0.6,0.7,0.8,0.9,1,2,3,4,5,6,7,8,9,10,20,30,40,50,60,70,80,90],"tickSize":{"condition":{"test":"abs(log(datum.value)/LN10-round(log(datum.value)/LN10))<0.001","value":-7},"value":-4},"labels":false,"title":null}},"color":{"field":"n","type":"nominal","scale":{"domain":[0,1,2,3],"range":["#5E81B5","#E19C24","#8FB032","#EB6235"]},"legend":null}}},
{"mark":{"type":"line","strokeWidth":2,"clip":true,"interpolate":"monotone"},"encoding":{"x":{"field":"r","type":"quantitative","scale":{"type":"log","domain":[0.00155,1.61],"nice":false},"axis":{"orient":"top","values":[0.002,0.003,0.004,0.005,0.006,0.007,0.008,0.009,0.01,0.02,0.03,0.04,0.05,0.06,0.07,0.08,0.09,0.1,0.2,0.3,0.4,0.5,0.6,0.7,0.8,0.9,1],"tickSize":{"condition":{"test":"abs(log(datum.value)/LN10-round(log(datum.value)/LN10))<0.001","value":-7},"value":-4},"labels":false,"title":null}},"y":{"field":"f","type":"quantitative","scale":{"type":"log","domain":[0.00031,97],"nice":false},"axis":{"orient":"right","values":[0.0004,0.0005,0.0006,0.0007,0.0008,0.0009,0.001,0.002,0.003,0.004,0.005,0.006,0.007,0.008,0.009,0.01,0.02,0.03,0.04,0.05,0.06,0.07,0.08,0.09,0.1,0.2,0.3,0.4,0.5,0.6,0.7,0.8,0.9,1,2,3,4,5,6,7,8,9,10,20,30,40,50,60,70,80,90],"tickSize":{"condition":{"test":"abs(log(datum.value)/LN10-round(log(datum.value)/LN10))<0.001","value":-7},"value":-4},"labels":false,"title":"ℓ = 1","titleAngle":270,"titleBaseline":"top"}},"color":{"field":"n","type":"nominal","scale":{"domain":[0,1,2,3],"range":["#5E81B5","#E19C24","#8FB032","#EB6235"]},"legend":null}}}
],"resolve":{"axis":{"x":"independent","y":"independent"}}},
{"width":299,"height":279,"data":{"name":"wf"},"transform":[{"filter":"datum.n == 0 && datum.l == 2"}],"layer":[
{"mark":{"type":"area","opacity":0.2,"clip":true,"interpolate":"monotone"},"encoding":{"x":{"field":"r","type":"quantitative","scale":{"type":"log","domain":[0.00155,1.61],"nice":false},"axis":{"orient":"bottom","values":[0.002,0.003,0.004,0.005,0.006,0.007,0.008,0.009,0.01,0.02,0.03,0.04,0.05,0.06,0.07,0.08,0.09,0.1,0.2,0.3,0.4,0.5,0.6,0.7,0.8,0.9,1],"tickSize":{"condition":{"test":"abs(log(datum.value)/LN10-round(log(datum.value)/LN10))<0.001","value":-7},"value":-4},"labelExpr":"datum.value==0.01?'10⁻²':datum.value==0.1?'10⁻¹':datum.value==1?'10⁰':''","title":"r"}},"y":{"field":"f","type":"quantitative","stack":null,"scale":{"type":"log","domain":[0.00031,97],"nice":false},"axis":{"orient":"left","values":[0.0004,0.0005,0.0006,0.0007,0.0008,0.0009,0.001,0.002,0.003,0.004,0.005,0.006,0.007,0.008,0.009,0.01,0.02,0.03,0.04,0.05,0.06,0.07,0.08,0.09,0.1,0.2,0.3,0.4,0.5,0.6,0.7,0.8,0.9,1,2,3,4,5,6,7,8,9,10,20,30,40,50,60,70,80,90],"tickSize":{"condition":{"test":"abs(log(datum.value)/LN10-round(log(datum.value)/LN10))<0.001","value":-7},"value":-4},"labelExpr":"datum.value==10?'10¹':datum.value==0.1?'10⁻¹':datum.value==0.001?'10⁻³':''","title":"|fₙₗ(r)|","titleFontSize":22}},"color":{"field":"n","type":"nominal","scale":{"domain":[0,1,2,3],"range":["#5E81B5","#E19C24","#8FB032","#EB6235"]},"legend":null}}},
{"mark":{"type":"line","strokeWidth":2,"clip":true,"interpolate":"monotone"},"encoding":{"x":{"field":"r","type":"quantitative","scale":{"type":"log","domain":[0.00155,1.61],"nice":false},"axis":{"orient":"top","values":[0.002,0.003,0.004,0.005,0.006,0.007,0.008,0.009,0.01,0.02,0.03,0.04,0.05,0.06,0.07,0.08,0.09,0.1,0.2,0.3,0.4,0.5,0.6,0.7,0.8,0.9,1],"tickSize":{"condition":{"test":"abs(log(datum.value)/LN10-round(log(datum.value)/LN10))<0.001","value":-7},"value":-4},"labels":false,"title":null}},"y":{"field":"f","type":"quantitative","scale":{"type":"log","domain":[0.00031,97],"nice":false},"axis":{"orient":"right","values":[0.0004,0.0005,0.0006,0.0007,0.0008,0.0009,0.001,0.002,0.003,0.004,0.005,0.006,0.007,0.008,0.009,0.01,0.02,0.03,0.04,0.05,0.06,0.07,0.08,0.09,0.1,0.2,0.3,0.4,0.5,0.6,0.7,0.8,0.9,1,2,3,4,5,6,7,8,9,10,20,30,40,50,60,70,80,90],"tickSize":{"condition":{"test":"abs(log(datum.value)/LN10-round(log(datum.value)/LN10))<0.001","value":-7},"value":-4},"labels":false,"title":null}},"color":{"field":"n","type":"nominal","scale":{"domain":[0,1,2,3],"range":["#5E81B5","#E19C24","#8FB032","#EB6235"]},"legend":null}}}
],"resolve":{"axis":{"x":"independent","y":"independent"}}},
{"width":299,"height":279,"data":{"name":"wf"},"transform":[{"filter":"datum.n == 1 && datum.l == 2"}],"layer":[
{"mark":{"type":"area","opacity":0.2,"clip":true,"interpolate":"monotone"},"encoding":{"x":{"field":"r","type":"quantitative","scale":{"type":"log","domain":[0.00155,1.61],"nice":false},"axis":{"orient":"bottom","values":[0.002,0.003,0.004,0.005,0.006,0.007,0.008,0.009,0.01,0.02,0.03,0.04,0.05,0.06,0.07,0.08,0.09,0.1,0.2,0.3,0.4,0.5,0.6,0.7,0.8,0.9,1],"tickSize":{"condition":{"test":"abs(log(datum.value)/LN10-round(log(datum.value)/LN10))<0.001","value":-7},"value":-4},"labelExpr":"datum.value==0.01?'10⁻²':datum.value==0.1?'10⁻¹':datum.value==1?'10⁰':''","title":"r"}},"y":{"field":"f","type":"quantitative","stack":null,"scale":{"type":"log","domain":[0.00031,97],"nice":false},"axis":{"orient":"left","values":[0.0004,0.0005,0.0006,0.0007,0.0008,0.0009,0.001,0.002,0.003,0.004,0.005,0.006,0.007,0.008,0.009,0.01,0.02,0.03,0.04,0.05,0.06,0.07,0.08,0.09,0.1,0.2,0.3,0.4,0.5,0.6,0.7,0.8,0.9,1,2,3,4,5,6,7,8,9,10,20,30,40,50,60,70,80,90],"tickSize":{"condition":{"test":"abs(log(datum.value)/LN10-round(log(datum.value)/LN10))<0.001","value":-7},"value":-4},"labels":false,"title":null}},"color":{"field":"n","type":"nominal","scale":{"domain":[0,1,2,3],"range":["#5E81B5","#E19C24","#8FB032","#EB6235"]},"legend":null}}},
{"mark":{"type":"line","strokeWidth":2,"clip":true,"interpolate":"monotone"},"encoding":{"x":{"field":"r","type":"quantitative","scale":{"type":"log","domain":[0.00155,1.61],"nice":false},"axis":{"orient":"top","values":[0.002,0.003,0.004,0.005,0.006,0.007,0.008,0.009,0.01,0.02,0.03,0.04,0.05,0.06,0.07,0.08,0.09,0.1,0.2,0.3,0.4,0.5,0.6,0.7,0.8,0.9,1],"tickSize":{"condition":{"test":"abs(log(datum.value)/LN10-round(log(datum.value)/LN10))<0.001","value":-7},"value":-4},"labels":false,"title":null}},"y":{"field":"f","type":"quantitative","scale":{"type":"log","domain":[0.00031,97],"nice":false},"axis":{"orient":"right","values":[0.0004,0.0005,0.0006,0.0007,0.0008,0.0009,0.001,0.002,0.003,0.004,0.005,0.006,0.007,0.008,0.009,0.01,0.02,0.03,0.04,0.05,0.06,0.07,0.08,0.09,0.1,0.2,0.3,0.4,0.5,0.6,0.7,0.8,0.9,1,2,3,4,5,6,7,8,9,10,20,30,40,50,60,70,80,90],"tickSize":{"condition":{"test":"abs(log(datum.value)/LN10-round(log(datum.value)/LN10))<0.001","value":-7},"value":-4},"labels":false,"title":null}},"color":{"field":"n","type":"nominal","scale":{"domain":[0,1,2,3],"range":["#5E81B5","#E19C24","#8FB032","#EB6235"]},"legend":null}}}
],"resolve":{"axis":{"x":"independent","y":"independent"}}},
{"width":299,"height":279,"data":{"name":"wf"},"transform":[{"filter":"datum.n == 2 && datum.l == 2"}],"layer":[
{"mark":{"type":"area","opacity":0.2,"clip":true,"interpolate":"monotone"},"encoding":{"x":{"field":"r","type":"quantitative","scale":{"type":"log","domain":[0.00155,1.61],"nice":false},"axis":{"orient":"bottom","values":[0.002,0.003,0.004,0.005,0.006,0.007,0.008,0.009,0.01,0.02,0.03,0.04,0.05,0.06,0.07,0.08,0.09,0.1,0.2,0.3,0.4,0.5,0.6,0.7,0.8,0.9,1],"tickSize":{"condition":{"test":"abs(log(datum.value)/LN10-round(log(datum.value)/LN10))<0.001","value":-7},"value":-4},"labelExpr":"datum.value==0.01?'10⁻²':datum.value==0.1?'10⁻¹':datum.value==1?'10⁰':''","title":"r"}},"y":{"field":"f","type":"quantitative","stack":null,"scale":{"type":"log","domain":[0.00031,97],"nice":false},"axis":{"orient":"left","values":[0.0004,0.0005,0.0006,0.0007,0.0008,0.0009,0.001,0.002,0.003,0.004,0.005,0.006,0.007,0.008,0.009,0.01,0.02,0.03,0.04,0.05,0.06,0.07,0.08,0.09,0.1,0.2,0.3,0.4,0.5,0.6,0.7,0.8,0.9,1,2,3,4,5,6,7,8,9,10,20,30,40,50,60,70,80,90],"tickSize":{"condition":{"test":"abs(log(datum.value)/LN10-round(log(datum.value)/LN10))<0.001","value":-7},"value":-4},"labels":false,"title":null}},"color":{"field":"n","type":"nominal","scale":{"domain":[0,1,2,3],"range":["#5E81B5","#E19C24","#8FB032","#EB6235"]},"legend":null}}},
{"mark":{"type":"line","strokeWidth":2,"clip":true,"interpolate":"monotone"},"encoding":{"x":{"field":"r","type":"quantitative","scale":{"type":"log","domain":[0.00155,1.61],"nice":false},"axis":{"orient":"top","values":[0.002,0.003,0.004,0.005,0.006,0.007,0.008,0.009,0.01,0.02,0.03,0.04,0.05,0.06,0.07,0.08,0.09,0.1,0.2,0.3,0.4,0.5,0.6,0.7,0.8,0.9,1],"tickSize":{"condition":{"test":"abs(log(datum.value)/LN10-round(log(datum.value)/LN10))<0.001","value":-7},"value":-4},"labels":false,"title":null}},"y":{"field":"f","type":"quantitative","scale":{"type":"log","domain":[0.00031,97],"nice":false},"axis":{"orient":"right","values":[0.0004,0.0005,0.0006,0.0007,0.0008,0.0009,0.001,0.002,0.003,0.004,0.005,0.006,0.007,0.008,0.009,0.01,0.02,0.03,0.04,0.05,0.06,0.07,0.08,0.09,0.1,0.2,0.3,0.4,0.5,0.6,0.7,0.8,0.9,1,2,3,4,5,6,7,8,9,10,20,30,40,50,60,70,80,90],"tickSize":{"condition":{"test":"abs(log(datum.value)/LN10-round(log(datum.value)/LN10))<0.001","value":-7},"value":-4},"labels":false,"title":null}},"color":{"field":"n","type":"nominal","scale":{"domain":[0,1,2,3],"range":["#5E81B5","#E19C24","#8FB032","#EB6235"]},"legend":null}}}
],"resolve":{"axis":{"x":"independent","y":"independent"}}},
{"width":299,"height":279,"data":{"name":"wf"},"transform":[{"filter":"datum.n == 3 && datum.l == 2"}],"layer":[
{"mark":{"type":"area","opacity":0.2,"clip":true,"interpolate":"monotone"},"encoding":{"x":{"field":"r","type":"quantitative","scale":{"type":"log","domain":[0.00155,1.61],"nice":false},"axis":{"orient":"bottom","values":[0.002,0.003,0.004,0.005,0.006,0.007,0.008,0.009,0.01,0.02,0.03,0.04,0.05,0.06,0.07,0.08,0.09,0.1,0.2,0.3,0.4,0.5,0.6,0.7,0.8,0.9,1],"tickSize":{"condition":{"test":"abs(log(datum.value)/LN10-round(log(datum.value)/LN10))<0.001","value":-7},"value":-4},"labelExpr":"datum.value==0.01?'10⁻²':datum.value==0.1?'10⁻¹':datum.value==1?'10⁰':''","title":"r"}},"y":{"field":"f","type":"quantitative","stack":null,"scale":{"type":"log","domain":[0.00031,97],"nice":false},"axis":{"orient":"left","values":[0.0004,0.0005,0.0006,0.0007,0.0008,0.0009,0.001,0.002,0.003,0.004,0.005,0.006,0.007,0.008,0.009,0.01,0.02,0.03,0.04,0.05,0.06,0.07,0.08,0.09,0.1,0.2,0.3,0.4,0.5,0.6,0.7,0.8,0.9,1,2,3,4,5,6,7,8,9,10,20,30,40,50,60,70,80,90],"tickSize":{"condition":{"test":"abs(log(datum.value)/LN10-round(log(datum.value)/LN10))<0.001","value":-7},"value":-4},"labels":false,"title":null}},"color":{"field":"n","type":"nominal","scale":{"domain":[0,1,2,3],"range":["#5E81B5","#E19C24","#8FB032","#EB6235"]},"legend":null}}},
{"mark":{"type":"line","strokeWidth":2,"clip":true,"interpolate":"monotone"},"encoding":{"x":{"field":"r","type":"quantitative","scale":{"type":"log","domain":[0.00155,1.61],"nice":false},"axis":{"orient":"top","values":[0.002,0.003,0.004,0.005,0.006,0.007,0.008,0.009,0.01,0.02,0.03,0.04,0.05,0.06,0.07,0.08,0.09,0.1,0.2,0.3,0.4,0.5,0.6,0.7,0.8,0.9,1],"tickSize":{"condition":{"test":"abs(log(datum.value)/LN10-round(log(datum.value)/LN10))<0.001","value":-7},"value":-4},"labels":false,"title":null}},"y":{"field":"f","type":"quantitative","scale":{"type":"log","domain":[0.00031,97],"nice":false},"axis":{"orient":"right","values":[0.0004,0.0005,0.0006,0.0007,0.0008,0.0009,0.001,0.002,0.003,0.004,0.005,0.006,0.007,0.008,0.009,0.01,0.02,0.03,0.04,0.05,0.06,0.07,0.08,0.09,0.1,0.2,0.3,0.4,0.5,0.6,0.7,0.8,0.9,1,2,3,4,5,6,7,8,9,10,20,30,40,50,60,70,80,90],"tickSize":{"condition":{"test":"abs(log(datum.value)/LN10-round(log(datum.value)/LN10))<0.001","value":-7},"value":-4},"labels":false,"title":"ℓ = 2","titleAngle":270,"titleBaseline":"top"}},"color":{"field":"n","type":"nominal","scale":{"domain":[0,1,2,3],"range":["#5E81B5","#E19C24","#8FB032","#EB6235"]},"legend":null}}}
],"resolve":{"axis":{"x":"independent","y":"independent"}}}
],
"config":{
"view":{"stroke":null},
"axis":{"domainColor":"#333333","domainWidth":1,"tickColor":"#333333","tickWidth":1,"grid":false,"zindex":1,"labelFont":"Liberation Sans","labelFontSize":20,"labelColor":"#1a1a1a","labelOverlap":false,"labelFlush":false,"titleFont":"DejaVu Serif","titleFontWeight":"bold","titleFontSize":21,"titleColor":"#1a1a1a"},
"axisBottom":{"labelPadding":10,"titlePadding":17},
"axisLeft":{"labelPadding":13,"titlePadding":20},
"axisTop":{"titlePadding":20},
"axisRight":{"titlePadding":19}
}
}
